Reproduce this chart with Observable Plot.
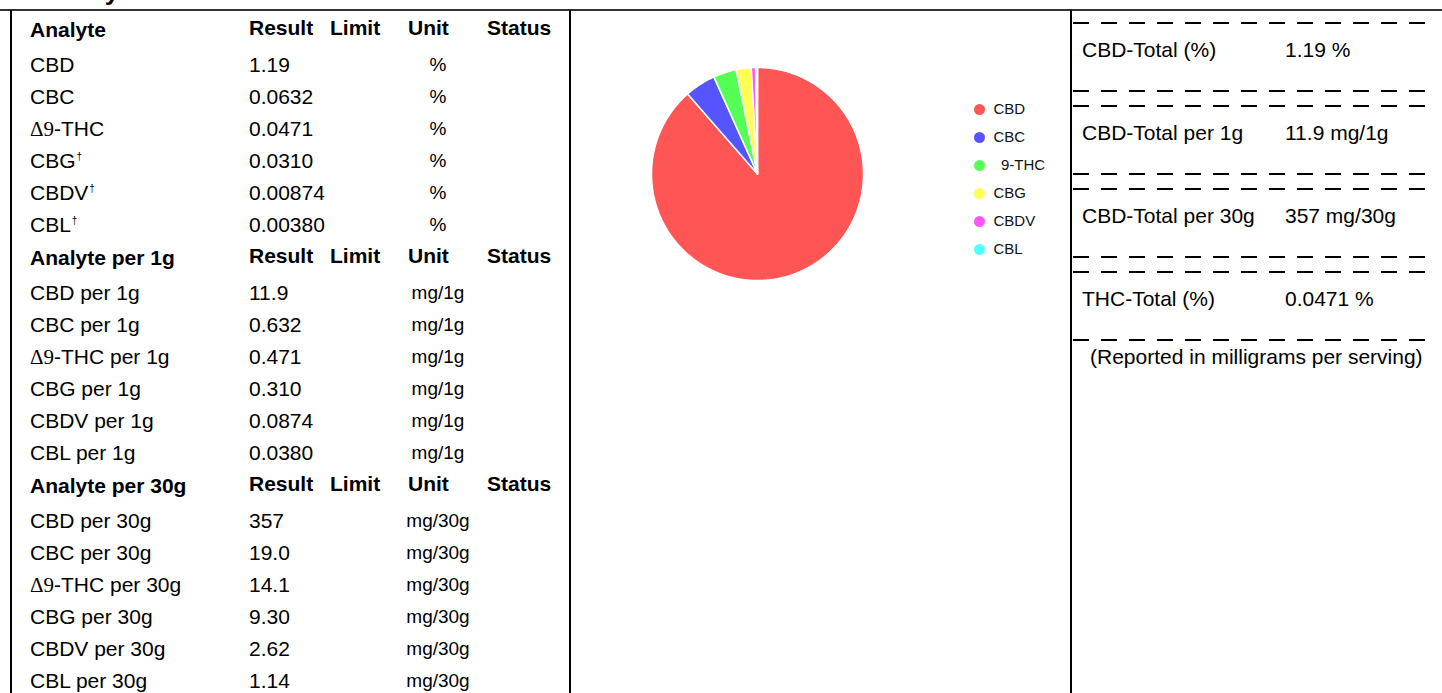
<!DOCTYPE html>
<html><head><meta charset="utf-8">
<script src="https://cdn.jsdelivr.net/npm/d3@7"></script>
<script src="https://cdn.jsdelivr.net/npm/@observablehq/plot@0.6"></script>
<style>
html,body{margin:0;padding:0;background:#fff;}
#page{position:relative;width:1442px;height:693px;overflow:hidden;font-family:"Liberation Sans",Arial,sans-serif;color:#000;}
.t{position:absolute;white-space:nowrap;font-size:21px;line-height:24px;}
.b{font-weight:bold;}
.u{font-size:19px;transform:translateX(-50%);}
.delta{font-family:"Liberation Serif","Times New Roman",serif;}
.dag{font-size:10px;position:relative;top:-8px;margin-left:1px;}
.line{position:absolute;background:#000;}
.dash{position:absolute;height:2px;background:repeating-linear-gradient(to right,#000 0 16px,transparent 16px 28px);}
#title{position:absolute;left:18px;top:-24px;font-size:26px;line-height:30px;font-weight:bold;}
</style></head>
<body>
<div id="page">
  <div id="title">Potency</div>
</div>
<script>
// ---- data ----
const analytes = ["CBD", "CBC", "Δ9-THC", "CBG", "CBDV", "CBL"];
const dagger = [false, false, false, true, true, true];
const resultPct = ["1.19", "0.0632", "0.0471", "0.0310", "0.00874", "0.00380"];
const resultPer1g = ["11.9", "0.632", "0.471", "0.310", "0.0874", "0.0380"];
const resultPer30g = ["357", "19.0", "14.1", "9.30", "2.62", "1.14"];
const sectionTitles = ["Analyte", "Analyte per 1g", "Analyte per 30g"];
const sectionSuffix = ["", " per 1g", " per 30g"];
const sectionUnits = ["%", "mg/1g", "mg/30g"];
const columnHeaders = ["Result", "Limit", "Unit", "Status"];
const sliceColors = ["#ff5555", "#5555ff", "#55ff55", "#ffff55", "#ff55ff", "#55ffff"];
const legendLabels = ["CBD", "CBC", "\u20029-THC", "CBG", "CBDV", "CBL"];
const totalLabels = ["CBD-Total (%)", "CBD-Total per 1g", "CBD-Total per 30g", "THC-Total (%)"];
const totalValues = ["1.19 %", "11.9 mg/1g", "357 mg/30g", "0.0471 %"];
const footnote = "(Reported in milligrams per serving)";

const page = document.getElementById("page");
function el(cls, html, left, top, extra) {
  const d = document.createElement("div");
  d.className = cls;
  d.innerHTML = html;
  d.style.left = left + "px";
  d.style.top = top + "px";
  if (extra) Object.assign(d.style, extra);
  page.appendChild(d);
  return d;
}
function fmtName(n) {
  return n.replace("Δ9", '<span class="delta">Δ9</span>');
}

// frame lines
el("line", "", 0, 9, {width: "1442px", height: "2px", background: "#333"});
el("line", "", 10, 10, {width: "2px", height: "690px"});
el("line", "", 569, 10, {width: "2px", height: "690px"});
el("line", "", 1070, 10, {width: "2px", height: "690px"});

// table
const results = [resultPct, resultPer1g, resultPer30g];
const colX = [249, 330, 408, 487];
sectionTitles.forEach((title, s) => {
  const hy = 29 + 228 * s;
  el("t b", title, 30, hy - 11);
  columnHeaders.forEach((h, j) => el("t b", h, colX[j], hy - 13));
  analytes.forEach((a, i) => {
    const ry = hy + 36 + 32 * i;
    let name = fmtName(a) + sectionSuffix[s];
    if (s === 0 && dagger[i]) name += '<span class="dag">†</span>';
    el("t", name, 30, ry - 12);
    el("t", results[s][i], 249, ry - 12);
    el("t u", sectionUnits[s], 438, ry - 12);
  });
});

// right panel
totalLabels.forEach((lab, i) => {
  const top = 22 + 83 * i;
  el("dash", "", 1073, top, {width: "357px"});
  el("dash", "", 1073, top + 68, {width: "357px"});
  el("t", lab, 1082, top + 28 - 12);
  el("t", totalValues[i], 1285, top + 28 - 12);
});
el("t", footnote, 1090, 357 - 12);

// pie chart
const values = resultPct.map(Number);
const arcs = d3.pie().sort(null).value(d => d)(values);
const piePts = [];
arcs.forEach((arc, i) => {
  const name = analytes[i];
  piePts.push({name, x: 0, y: 0});
  const n = Math.max(2, Math.ceil((arc.endAngle - arc.startAngle) / 0.01));
  for (let k = 0; k <= n; k++) {
    const a = arc.startAngle + (arc.endAngle - arc.startAngle) * k / n;
    piePts.push({name, x: Math.sin(a), y: Math.cos(a)});
  }
  piePts.push({name, x: 0, y: 0});
});

const pie = Plot.plot({
  width: 499, height: 300, margin: 0,
  x: {domain: [-1, 1], range: [80, 292], axis: null},
  y: {domain: [-1, 1], range: [269, 56], axis: null},
  color: {domain: analytes, range: sliceColors},
  marks: [
    Plot.line(piePts, {x: "x", y: "y", z: "name", fill: "name", stroke: "white", strokeWidth: 1.5, strokeLinejoin: "miter"})
  ]
});
pie.style.position = "absolute";
pie.style.left = "571px";
pie.style.top = "11px";
page.appendChild(pie);

// legend
const legendData = analytes.map((a, i) => ({name: a, label: legendLabels[i]}));
const legend = Plot.plot({
  width: 110, height: 175, margin: 0,
  style: {fontFamily: '"Liberation Sans", Arial, sans-serif', background: "transparent"},
  y: {type: "point", domain: analytes, range: [18, 159], padding: 0, axis: null},
  color: {domain: analytes, range: sliceColors},
  marks: [
    Plot.dot(legendData, {y: "name", fill: "name", r: 5.5, frameAnchor: "left", dx: 19}),
    Plot.text(legendData, {y: "name", text: "label", frameAnchor: "left", dx: 33, textAnchor: "start", fontSize: 15, fill: "#111"})
  ]
});
legend.style.position = "absolute";
legend.style.left = "960px";
legend.style.top = "90px";
page.appendChild(legend);
</script>
</body></html>
